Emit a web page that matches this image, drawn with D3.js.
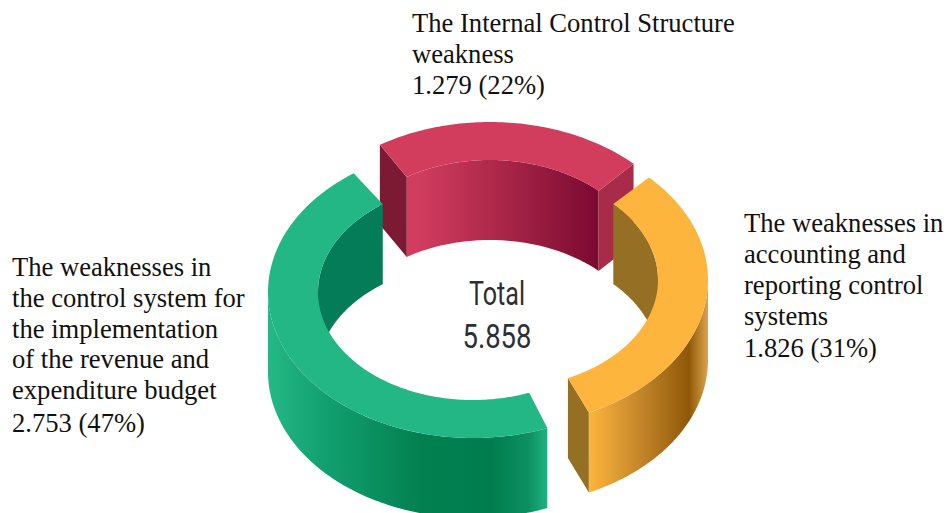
<!DOCTYPE html>
<html>
<head>
<meta charset="utf-8">
<script src="https://cdn.jsdelivr.net/npm/d3@7"></script>
<style>
  html, body { margin: 0; padding: 0; background: #fff; overflow: hidden; }
  svg { display: block; }
  .label { font-family: "Liberation Serif", serif; font-size: 26.6px; fill: #111; }
  .total { font-family: Roboto, sans-serif; font-size: 33px; font-weight: 400; fill: #2c2f36; text-anchor: middle; }
</style>
</head>
<body>
<svg id="chart" width="947" height="513"></svg>
<script>
// Budget control weaknesses, in clockwise order from the top of the ring
const segmentNames = ["Internal Control Structure", "Accounting and reporting", "Revenue and expenditure budget"];
const segmentValues = [1279, 1826, 2753];
const totalLines = ["Total", "5.858"];

const labelLines = [
  ["The Internal Control Structure", "weakness", "1.279 (22%)"],
  ["The weaknesses in", "accounting and", "reporting control", "systems", "1.826 (31%)"],
  ["The weaknesses in", "the control system for", "the implementation", "of the revenue and", "expenditure budget", "2.753 (47%)"]
];

// Ring geometry: each segment is pulled a little away from the middle
const W = 947, H = 513;
const DEG = Math.PI / 180;
const outer = { rx: 205, ry: 146 };
const inner = { rx: 155, ry: 108 };
const depth = 80;
const centres = [[490, 268], [503, 280], [473, 292]];
const nudge = [0, -1.6 * DEG, -0.6 * DEG];
const padding = 2.5 * DEG;

const labelPlacement = [
  { x: 412, y: 32, dys: [0, 31, 62] },
  { x: 744, y: 232, dys: [0, 31, 62, 93, 125] },
  { x: 12, y: 276, dys: [0, 31, 62, 92, 123, 156] }
];

const faceStyles = [
  { top: "#d23d5e", inner: "url(#wall-0)", outer: "none", start: "#7d1a33", end: "#a82c49" },
  { top: "#fdb53e", inner: "#957024", outer: "url(#wall-1)", start: "#957024", end: "#957024" },
  { top: "#22b785", inner: "#047c58", outer: "url(#wall-2)", start: "#047c58", end: "#047c58" }
];

const wallGradients = [
  { x1: 408, x2: 597, stops: [[0, "#d23d5e"], [0.07, "#d03c5d"], [0.5, "#a92648"], [1, "#7b0a32"]] },
  { x1: 589, x2: 708, stops: [[0, "#fdb53e"], [0.5, "#bb7e25"], [0.84, "#8f5806"], [1, "#dca64f"]] },
  { x1: 268, x2: 548, stops: [[0, "#25b885"], [0.2, "#12a071"], [0.55, "#03804f"], [0.8, "#007d4f"], [0.93, "#0c9062"], [1, "#21b382"]] }
];

const svg = d3.select("#chart");
const defs = svg.append("defs");
wallGradients.forEach((g, i) => {
  const lg = defs.append("linearGradient")
    .attr("id", "wall-" + i)
    .attr("gradientUnits", "userSpaceOnUse")
    .attr("x1", g.x1).attr("x2", g.x2).attr("y1", 0).attr("y2", 0);
  lg.selectAll("stop").data(g.stops).join("stop")
    .attr("offset", d => d[0]).attr("stop-color", d => d[1]);
});

// Segment angles come straight from the values
const pie = d3.pie().sort(null)
  .startAngle(-33.75 * DEG)
  .endAngle(-33.75 * DEG + 2 * Math.PI)
  .padAngle(padding);

const arcs = pie(segmentValues).map((d, i) => ({
  index: i,
  name: segmentNames[i],
  a0: d.startAngle + padding / 2 + nudge[i],
  a1: d.endAngle - padding / 2 + nudge[i],
  cx: centres[i][0],
  cy: centres[i][1]
}));

const line = d3.line();

function point(seg, ring, angle, drop) {
  return [seg.cx + ring.rx * Math.sin(angle), seg.cy - ring.ry * Math.cos(angle) + drop];
}
function arcPoints(seg, ring, from, to, drop) {
  const n = Math.max(2, Math.ceil(Math.abs(to - from) / (1 * DEG)));
  return d3.range(n + 1).map(k => point(seg, ring, from + (to - from) * k / n, drop));
}
function band(seg, ringA, ringB, from, to, dropA, dropB) {
  return line(arcPoints(seg, ringA, from, to, dropA)
    .concat(arcPoints(seg, ringB, to, from, dropB))) + "Z";
}

// Overlap of a segment's angular span with a visible half of the ring
function clip(seg, lo, hi) {
  for (const turn of [-1, 0, 1]) {
    const a = Math.max(seg.a0, lo + turn * 2 * Math.PI);
    const b = Math.min(seg.a1, hi + turn * 2 * Math.PI);
    if (b > a) return [a, b];
  }
  return null;
}

// Back to front: the rear segment first, then the two nearer ones
const groups = svg.selectAll("g.segment")
  .data([arcs[0], arcs[2], arcs[1]])
  .join("g").attr("class", "segment");

groups.each(function (seg) {
  const g = d3.select(this);
  const style = faceStyles[seg.index];

  const back = clip(seg, -Math.PI / 2, Math.PI / 2);
  if (back) {
    g.append("path").attr("d", band(seg, inner, inner, back[0], back[1], 0, depth))
      .attr("fill", style.inner);
  }
  const cut = (angle, fill) => {
    const a = point(seg, outer, angle, 0), b = point(seg, inner, angle, 0);
    const c = point(seg, inner, angle, depth), e = point(seg, outer, angle, depth);
    g.append("path").attr("d", line([a, b, c, e]) + "Z").attr("fill", fill);
  };
  if (Math.sin(seg.a0) < 0) cut(seg.a0, style.start);
  if (Math.sin(seg.a1) > 0) cut(seg.a1, style.end);

  const front = clip(seg, Math.PI / 2, 3 * Math.PI / 2);
  if (front) {
    g.append("path").attr("d", band(seg, outer, outer, front[0], front[1], 0, depth))
      .attr("fill", style.outer);
  }
  g.append("path").attr("d", band(seg, outer, inner, seg.a0, seg.a1, 0, 0))
    .attr("fill", style.top);
});

// Total in the middle of the ring
svg.append("text").attr("class", "total")
  .attr("x", 497).attr("y", 305)
  .attr("textLength", 56).attr("lengthAdjust", "spacingAndGlyphs")
  .text(totalLines[0]);
svg.append("text").attr("class", "total")
  .attr("x", 497).attr("y", 348)
  .attr("textLength", 69).attr("lengthAdjust", "spacingAndGlyphs")
  .text(totalLines[1]);

// Segment captions
labelLines.forEach((lines, i) => {
  const p = labelPlacement[i];
  svg.append("g").selectAll("text").data(lines).join("text")
    .attr("class", "label")
    .attr("x", p.x)
    .attr("y", (d, k) => p.y + p.dys[k])
    .text(d => d);
});
</script>
</body>
</html>
